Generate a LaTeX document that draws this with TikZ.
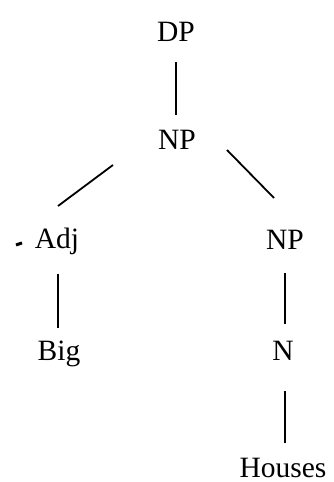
\documentclass[tikz,border=0pt]{standalone}
\usepackage{fontspec}
\setmainfont{Liberation Serif}
\begin{document}
\begin{tikzpicture}[x=1pt,y=1pt,
  lbl/.style={anchor=base,inner sep=0pt,font=\fontsize{29.5}{34}\selectfont},
  edge/.style={line width=1.8pt}]
\useasboundingbox[fill=white] (0,0) rectangle (333,482);
\node[lbl] (DP) at (176,440) {DP};
\node[lbl] (NP) at (177,332) {NP};
\node[lbl] (Adj) at (57,233) {Adj};
\node[lbl] (NPr) at (285,232) {NP};
\node[lbl] (Big) at (59,121) {Big};
\node[lbl] (N) at (283,121) {N};
\node[lbl] (Houses) at (283,5) {Houses};
\draw[edge] ([shift={(0,-20)}]DP.base) -- ([shift={(-1,35)}]NP.base);
\draw[edge] ([shift={(-64,-15)}]NP.base) -- ([shift={(1,43)}]Adj.base);
\draw[edge] ([shift={(50,0)}]NP.base) -- ([shift={(-11,52)}]NPr.base);
\draw[edge] ([shift={(1,-25)}]Adj.base) -- ([shift={(-1,33)}]Big.base);
\draw[edge] ([shift={(0,-23)}]NPr.base) -- ([shift={(2,37)}]N.base);
\draw[edge] ([shift={(2,-30)}]N.base) -- ([shift={(2,34)}]Houses.base);
\coordinate (mark) at ([shift={(-41,4)}]Adj.base);
\draw[line width=3pt] (mark) -- ++(6,2);
\end{tikzpicture}
\end{document}
